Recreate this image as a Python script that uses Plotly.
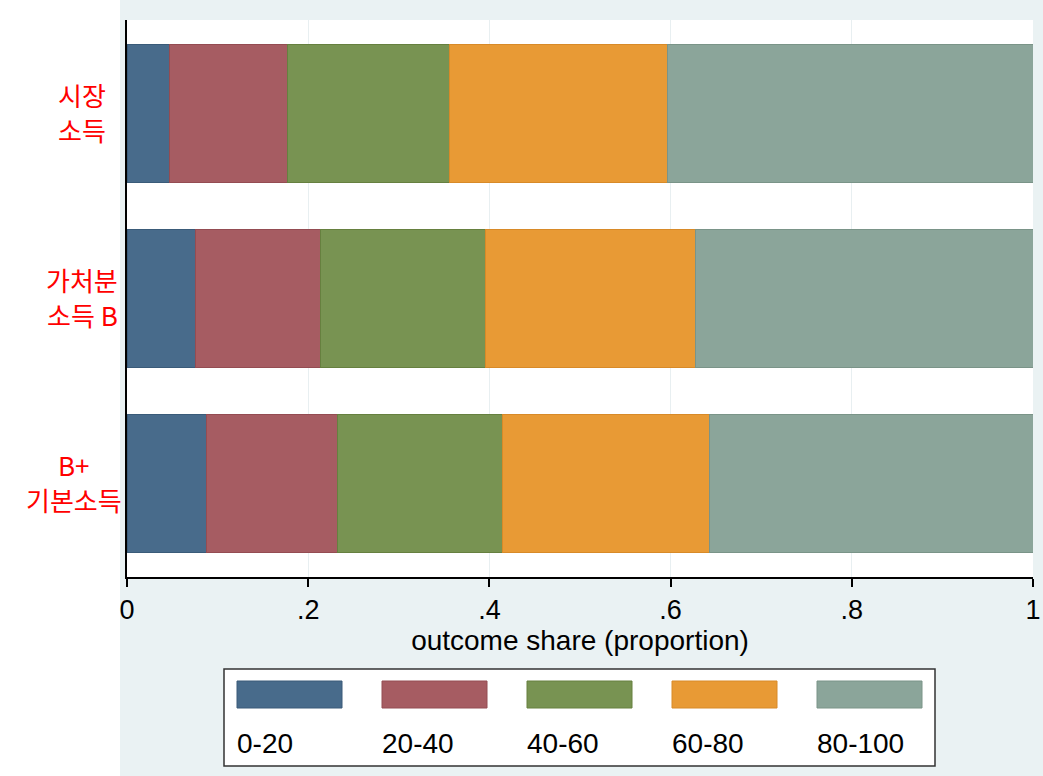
import plotly.graph_objects as go

categories = ["시장<br>소득", "가처분<br>소득 B", "B+<br>기본소득"]
series_names = ["0-20", "20-40", "40-60", "60-80", "80-100"]
share_0_20 = [0.047, 0.076, 0.088]
share_20_40 = [0.130, 0.138, 0.144]
share_40_60 = [0.179, 0.182, 0.182]
share_60_80 = [0.241, 0.232, 0.229]
share_80_100 = [0.403, 0.372, 0.357]
tick_vals = [0, 0.2, 0.4, 0.6, 0.8, 1]
tick_text = ["0", ".2", ".4", ".6", ".8", "1"]

series_values = [share_0_20, share_20_40, share_40_60, share_60_80, share_80_100]
colors = ["#486B8B", "#A65C62", "#789352", "#E89A35", "#8BA59A"]
line_colors = ["#3A5B79", "#944C52", "#66803F", "#D88A28", "#7A9488"]

W, H = 1043, 776
ML, MR, MT, MB = 127, 10, 20, 199
PW, PH = W - ML - MR, H - MT - MB
LABEL_SIZE = 26
LINE_GAP = 35


def px_x(px):
    return (px - ML) / PW


def px_y(py):
    return (H - MB - py) / PH


def text_width(s, size):
    w = 0.0
    for ch in s:
        if ch == " ":
            w += 0.28 * size
        elif ch.isascii():
            w += 0.6 * size
        else:
            w += 0.92 * size
    return w


ypos = list(range(len(categories)))
fig = go.Figure()
for name, vals, c, lc in zip(series_names, series_values, colors, line_colors):
    fig.add_trace(go.Bar(
        x=vals, y=ypos, orientation="h", name=name,
        marker=dict(color=c, line=dict(color=lc, width=1)),
        width=0.746, showlegend=False,
    ))

shapes = []
annotations = []
# white left strip
shapes.append(dict(type="rect", xref="paper", yref="paper",
                   x0=px_x(-2), x1=px_x(120), y0=px_y(H + 2), y1=px_y(-2),
                   fillcolor="white", line=dict(width=0), layer="below"))
# legend box
shapes.append(dict(type="rect", xref="paper", yref="paper",
                   x0=px_x(224), x1=px_x(935), y0=px_y(766), y1=px_y(669),
                   fillcolor="white", line=dict(color="#333333", width=1.5)))
for i, (name, c, lc) in enumerate(zip(series_names, colors, line_colors)):
    left = 237 + 145 * i
    shapes.append(dict(type="rect", xref="paper", yref="paper",
                       x0=px_x(left), x1=px_x(left + 105),
                       y0=px_y(708), y1=px_y(681),
                       fillcolor=c, line=dict(color=lc, width=1)))
    annotations.append(dict(xref="paper", yref="paper", x=px_x(left - 2), y=px_y(743),
                            xanchor="left", yanchor="middle", text=name, showarrow=False,
                            font=dict(family="Liberation Sans, Arial", size=28, color="black")))

# category labels: each line as its own text, block centred on the bar
for yp, cat in zip(ypos, categories):
    lines = cat.split("<br>")
    n = len(lines)
    widest = max(text_width(s, LABEL_SIZE) for s in lines)
    cx = min(82, 122 - widest / 2)
    for k, line in enumerate(lines):
        annotations.append(dict(xref="paper", yref="y", x=px_x(cx), y=yp,
                                xanchor="center", yanchor="middle",
                                yshift=(n - 1) / 2 * LINE_GAP - k * LINE_GAP + 1,
                                text=line, showarrow=False,
                                font=dict(family="Noto Sans CJK KR", size=LABEL_SIZE, color="red")))

fig.update_layout(
    width=W, height=H, autosize=False,
    margin=dict(l=ML, r=MR, t=MT, b=MB, autoexpand=False),
    barmode="stack",
    paper_bgcolor="#EAF2F3",
    plot_bgcolor="white",
    shapes=shapes,
    annotations=annotations,
    xaxis=dict(range=[0, 1], tickvals=tick_vals, ticktext=tick_text, automargin=False,
               showgrid=True, gridcolor="#E8EFF1", gridwidth=1,
               showline=True, linecolor="black", linewidth=1.5,
               ticks="outside", ticklen=8, tickcolor="black", tickwidth=1.5,
               zeroline=False,
               tickfont=dict(family="Liberation Sans, Arial", size=27, color="black"),
               title=dict(text="outcome share (proportion)", standoff=0,
                          font=dict(family="Liberation Sans, Arial", size=28, color="black"))),
    yaxis=dict(range=[2.508, -0.503], showticklabels=False, showgrid=False, automargin=False,
               zeroline=False, showline=True, linecolor="black", linewidth=1.5),
)

fig.write_html(
    "out.html",
    config={"displayModeBar": False, "responsive": False},
    post_script=("document.body.style.margin='0';"
                 "document.body.style.overflow='hidden';"
                 "Plotly.relayout('{plot_id}', {width: 1043, height: 776});"),
)
